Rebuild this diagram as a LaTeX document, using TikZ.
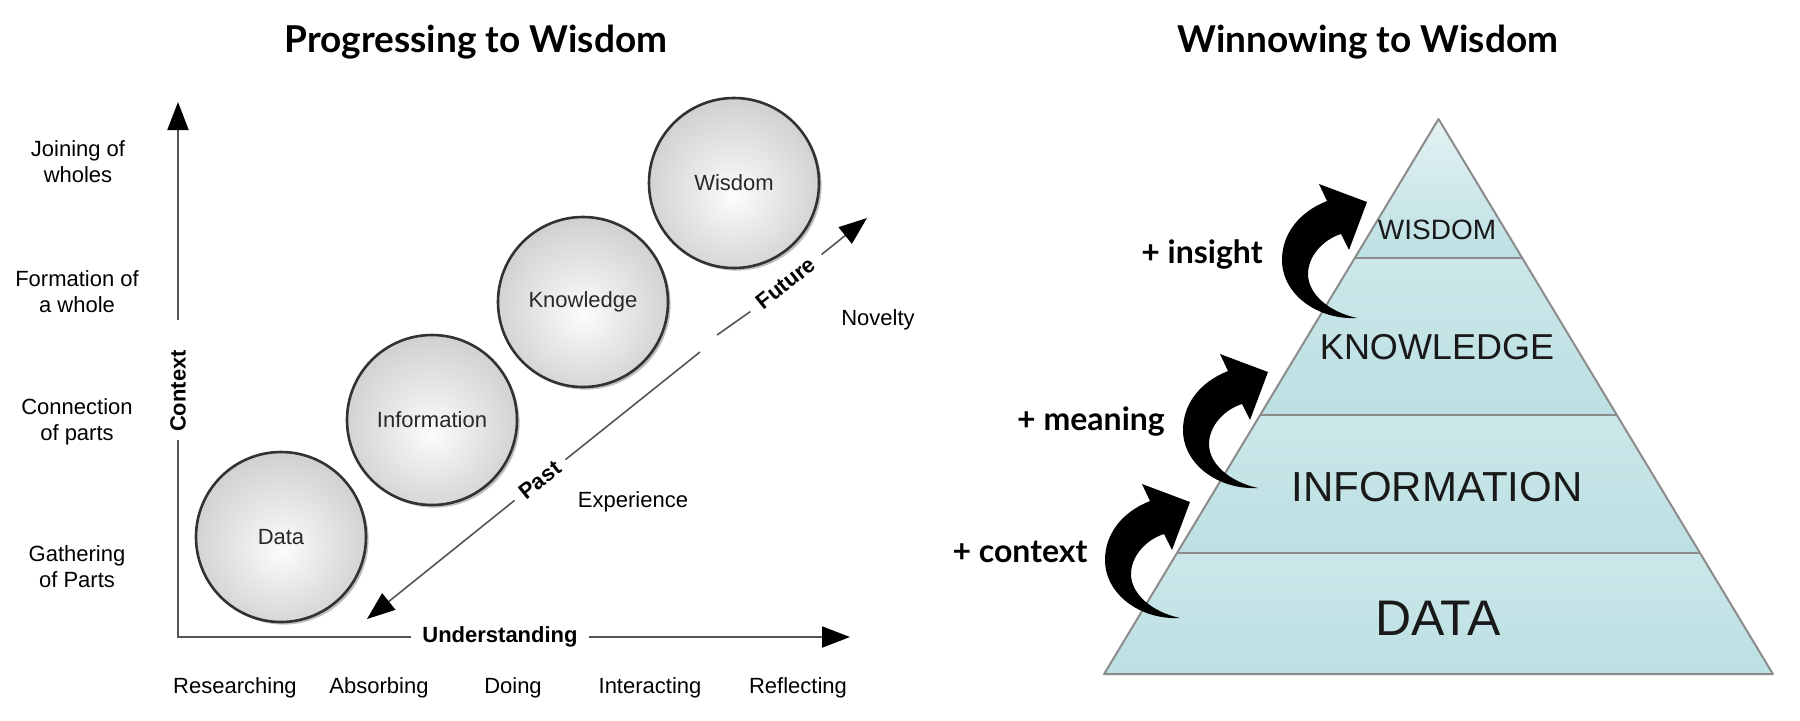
\documentclass[tikz,border=0pt]{standalone}
\usepackage{fontspec}
\setmainfont{Liberation Sans}
\newfontfamily\headfont{Lato}
\usetikzlibrary{arrows.meta,shadows,calc}

\definecolor{axisgray}{RGB}{85,85,85}
\definecolor{ballline}{RGB}{50,50,50}
\definecolor{balltext}{RGB}{40,40,40}
\definecolor{ballA}{RGB}{252,252,252}
\definecolor{ballB}{RGB}{232,232,232}
\definecolor{ballC}{RGB}{200,200,200}
\definecolor{ballD}{RGB}{165,165,165}
\definecolor{pyrline}{RGB}{140,140,140}
\definecolor{pyrlight}{RGB}{228,242,243}
\definecolor{pyrmid}{RGB}{203,231,233}
\definecolor{pyrdark}{RGB}{188,224,227}
\definecolor{pyrtext}{RGB}{25,25,25}

\pgfdeclareradialshading{ballshade}{\pgfpoint{0bp}{-4bp}}{color(0bp)=(ballA); color(12bp)=(ballB); color(32bp)=(ballC); color(50bp)=(ballD)}

\tikzset{
  headtitle/.style={font=\headfont\bfseries\fontsize{18.5}{22}\selectfont, inner sep=0pt},
  pluslab/.style={font=\headfont\bfseries\fontsize{16}{19}\selectfont, inner sep=0pt},
  sidelab/.style={font=\fontsize{11}{13}\selectfont, align=center, inner sep=0pt},
  axlab/.style={font=\bfseries\fontsize{11}{13}\selectfont, inner sep=0pt},
  plainlab/.style={font=\fontsize{11}{13}\selectfont, inner sep=0pt},
  axisline/.style={draw=axisgray, line width=1pt},
  diagline/.style={draw=axisgray, line width=0.8pt},
  tipped/.style={-{Triangle[length=14pt,width=10.5pt,color=black]}},
  ball/.style={circle, draw=ballline, line width=1.3pt, minimum size=85pt, inner sep=0pt,
    shading=ballshade, text=balltext, font=\fontsize{11}{13}\selectfont,
    drop shadow={shadow xshift=1.3pt, shadow yshift=-1.3pt, opacity=0.25, fill=black}},
  pyrband/.style={draw=none},
  pyrborder/.style={draw=pyrline, line width=1pt, line join=round},
  pyrlab/.style={text=pyrtext, inner sep=0pt},
  curvarrow/.pic={
    \fill[black] (0,0) -- (-48,-18) -- (-40,-1)
      .. controls (-68,10) and (-85,32) .. (-85,58)
      .. controls (-85,92) and (-50,118) .. (-10,116)
      .. controls (-38,110) and (-59,92) .. (-59,72)
      .. controls (-59,55) and (-45,38) .. (-26,32)
      -- (-18,48) -- cycle;
  }
}

\begin{document}
\begin{tikzpicture}[x=0.5pt, y=-0.5pt]
\useasboundingbox (0,0) rectangle (1800,720);
\fill[white] (0,0) rectangle (1800,720);

% ---------- titles ----------
\node[headtitle, anchor=base] (title1) at (476,52) {Progressing to Wisdom};
\node[headtitle, anchor=base] (title2) at (1368,52) {Winnowing to Wisdom};

% ---------- left: side labels ----------
\node[sidelab] (joining) at (78,162) {Joining of\\wholes};
\node[sidelab] (formation) at (77,292) {Formation of\\a whole};
\node[sidelab] (connection) at (77,422) {Connection\\of parts};
\node[sidelab] (gathering) at (77,567) {Gathering\\of Parts};

% ---------- left: bottom labels ----------
\node[plainlab] (researching) at (235,688) {Researching};
\node[plainlab] (absorbing) at (379,688) {Absorbing};
\node[plainlab] (doing) at (513,688) {Doing};
\node[plainlab] (interacting) at (650,688) {Interacting};
\node[plainlab] (reflecting) at (798,688) {Reflecting};

% ---------- left: axes ----------
\coordinate (corner) at (178,637);
\coordinate (ytip) at (178,102);
\coordinate (ylow) at (178,440);
\coordinate (yhigh) at (178,320);
\coordinate (xtip) at (850,637);
\node[axlab, rotate=90] (context) at (178,391) {Context};
\node[axlab, inner xsep=5.5pt] (understanding) at (500,637) {Understanding};
\draw[axisline] (ylow) -- (corner) -- (understanding.west);
\draw[axisline, tipped] (yhigh) -- (ytip);
\draw[axisline, tipped] (understanding.east) -- (xtip);

% ---------- left: spheres ----------
\node[ball] (data) at (281,537) {Data};
\node[ball] (information) at (432,420) {Information};
\node[ball] (knowledge) at (583,302) {Knowledge};
\node[ball] (wisdom) at (734,183) {Wisdom};

% ---------- left: diagonal time arrow ----------
\coordinate (dA) at (367,619);
\coordinate (dB) at (867,218);
\coordinate (gapA) at (700,352);
\coordinate (gapB) at (717,335);
\node[axlab, rotate=38.7, inner xsep=4.5pt] (past) at (540,480) {Past};
\node[axlab, rotate=38.7, inner xsep=5.5pt] (future) at (786,283) {Future};
\draw[diagline, tipped] (past.west) -- (dA);
\draw[diagline] (past.east) -- (gapA);
\draw[diagline] (gapB) -- (future.west);
\draw[diagline, tipped] (future.east) -- (dB);
\node[plainlab] (experience) at (633,502) {Experience};
\node[plainlab] (novelty) at (878,320) {Novelty};

% ---------- right: pyramid ----------
\coordinate (apex) at (1438.5,119);
\coordinate (wl) at (1354.8,258); \coordinate (wr) at (1522.2,258);
\coordinate (kl) at (1260.2,415); \coordinate (kr) at (1616.8,415);
\coordinate (il) at (1177,553);   \coordinate (ir) at (1700,553);
\coordinate (bl) at (1104.1,674); \coordinate (br) at (1772.9,674);

\shade[pyrband, top color=pyrlight, bottom color=pyrdark] (apex) -- (wr) -- (wl) -- cycle;
\shade[pyrband, top color=pyrmid, bottom color=pyrdark] (wl) -- (wr) -- (kr) -- (kl) -- cycle;
\shade[pyrband, top color=pyrmid, bottom color=pyrdark] (kl) -- (kr) -- (ir) -- (il) -- cycle;
\shade[pyrband, top color=pyrmid, bottom color=pyrdark] (il) -- (ir) -- (br) -- (bl) -- cycle;
\draw[pyrborder] (apex) -- (br) -- (bl) -- cycle;
\draw[pyrborder] (wl) -- (wr);
\draw[pyrborder] (kl) -- (kr);
\draw[pyrborder] (il) -- (ir);

\node[pyrlab, font=\fontsize{14}{16}\selectfont] (pw) at (1437,230) {WISDOM};
\node[pyrlab, font=\fontsize{18}{20}\selectfont] (pk) at (1437,347) {KNOWLEDGE};
\node[pyrlab, font=\fontsize{21}{24}\selectfont] (pi) at (1437,487) {INFORMATION};
\node[pyrlab, font=\fontsize{25}{28}\selectfont] (pd) at (1438,618) {DATA};

% ---------- right: curved arrows and labels ----------
\pic at (1367,202) {curvarrow};
\pic at (1268,372) {curvarrow};
\pic at (1190,502) {curvarrow};
\node[pluslab, anchor=base] (insight) at (1202,263) {+ insight};
\node[pluslab, anchor=base] (meaning) at (1091,430) {+ meaning};
\node[pluslab, anchor=base] (contextplus) at (1020,562) {+ context};
\end{tikzpicture}
\end{document}
